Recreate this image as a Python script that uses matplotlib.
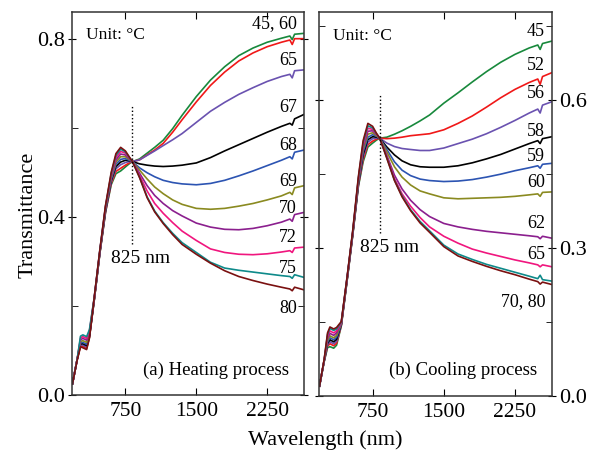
import matplotlib
matplotlib.use("Agg")
import matplotlib.pyplot as plt
from matplotlib.ticker import MultipleLocator

plt.rcParams['font.family'] = ['Liberation Serif', 'DejaVu Serif']
plt.rcParams['mathtext.fontset'] = 'stix'

# wavelength grid (nm): UV-vis part then NIR part
wl_uv = [190, 240, 275, 300, 340, 370, 420, 480, 540, 600, 650, 700, 750, 790]
wl_nir = [825, 900, 980, 1060, 1150, 1250, 1350, 1500, 1650, 1800, 1950, 2100,
          2250, 2400, 2490, 2515, 2540, 2640]
wl = wl_uv + wl_nir

# ---- (a) heating ----
heat_45 = [0.025, 0.08, 0.111, 0.110, 0.106, 0.130, 0.212, 0.318, 0.410, 0.472, 0.497, 0.503, 0.512, 0.519,
           0.524, 0.530, 0.543, 0.556, 0.572, 0.598, 0.628, 0.670, 0.707, 0.737, 0.762, 0.779,
           0.792, 0.801, 0.806, 0.798, 0.810, 0.812]
heat_60 = [0.025, 0.08, 0.110, 0.109, 0.105, 0.130, 0.212, 0.318, 0.411, 0.475, 0.502, 0.509, 0.516, 0.521,
           0.524, 0.528, 0.539, 0.550, 0.565, 0.590, 0.618, 0.658, 0.695, 0.725, 0.750, 0.768,
           0.782, 0.792, 0.797, 0.787, 0.800, 0.800]
heat_65 = [0.025, 0.08, 0.113, 0.112, 0.108, 0.131, 0.213, 0.319, 0.413, 0.478, 0.508, 0.517, 0.522, 0.524,
           0.524, 0.528, 0.538, 0.548, 0.560, 0.573, 0.587, 0.612, 0.637, 0.657, 0.675, 0.690,
           0.704, 0.715, 0.720, 0.712, 0.728, 0.730]
heat_67 = [0.025, 0.08, 0.115, 0.115, 0.111, 0.133, 0.213, 0.320, 0.415, 0.481, 0.513, 0.523, 0.527, 0.526,
           0.524, 0.519, 0.516, 0.514, 0.513, 0.514, 0.516, 0.521, 0.533, 0.548, 0.562, 0.576,
           0.590, 0.603, 0.610, 0.606, 0.620, 0.630]
heat_68 = [0.025, 0.08, 0.117, 0.118, 0.114, 0.135, 0.214, 0.321, 0.417, 0.484, 0.518, 0.529, 0.531, 0.527,
           0.524, 0.510, 0.499, 0.490, 0.482, 0.477, 0.474, 0.472, 0.475, 0.482, 0.492, 0.503,
           0.515, 0.527, 0.535, 0.530, 0.545, 0.550]
heat_69 = [0.025, 0.08, 0.120, 0.122, 0.118, 0.138, 0.215, 0.322, 0.419, 0.487, 0.523, 0.535, 0.535, 0.529,
           0.524, 0.505, 0.485, 0.467, 0.452, 0.438, 0.428, 0.419, 0.417, 0.419, 0.424, 0.430,
           0.438, 0.447, 0.455, 0.450, 0.465, 0.470]
heat_70 = [0.025, 0.08, 0.124, 0.127, 0.123, 0.141, 0.216, 0.323, 0.421, 0.490, 0.528, 0.541, 0.539, 0.531,
           0.524, 0.498, 0.470, 0.448, 0.430, 0.414, 0.402, 0.386, 0.377, 0.372, 0.371, 0.374,
           0.380, 0.388, 0.395, 0.390, 0.405, 0.410]
heat_72 = [0.025, 0.08, 0.128, 0.131, 0.127, 0.144, 0.217, 0.324, 0.423, 0.494, 0.533, 0.547, 0.543, 0.533,
           0.524, 0.493, 0.458, 0.430, 0.408, 0.387, 0.368, 0.347, 0.328, 0.320, 0.316, 0.315,
           0.317, 0.321, 0.324, 0.320, 0.330, 0.332]
heat_75 = [0.025, 0.08, 0.132, 0.135, 0.131, 0.147, 0.218, 0.325, 0.424, 0.497, 0.538, 0.552, 0.546, 0.534,
           0.524, 0.489, 0.445, 0.413, 0.387, 0.363, 0.342, 0.320, 0.298, 0.285, 0.280, 0.276,
           0.272, 0.268, 0.266, 0.262, 0.270, 0.264]
heat_80 = [0.025, 0.078, 0.108, 0.106, 0.102, 0.128, 0.218, 0.326, 0.426, 0.500, 0.542, 0.556, 0.548, 0.535,
           0.524, 0.488, 0.443, 0.411, 0.385, 0.360, 0.338, 0.316, 0.296, 0.279, 0.266, 0.257,
           0.249, 0.242, 0.238, 0.234, 0.242, 0.236]

# ---- (b) cooling ----
cool_45 = [0.02, 0.07, 0.098, 0.100, 0.097, 0.103, 0.142, 0.232, 0.325, 0.425, 0.475, 0.505, 0.513, 0.519,
           0.523, 0.525, 0.531, 0.538, 0.547, 0.558, 0.570, 0.594, 0.615, 0.637, 0.658, 0.677,
           0.693, 0.706, 0.712, 0.703, 0.715, 0.720]
cool_52 = [0.02, 0.071, 0.101, 0.106, 0.102, 0.107, 0.143, 0.233, 0.326, 0.427, 0.480, 0.510, 0.517, 0.521,
           0.523, 0.522, 0.523, 0.525, 0.528, 0.530, 0.532, 0.540, 0.553, 0.568, 0.586, 0.605,
           0.622, 0.636, 0.643, 0.632, 0.648, 0.656]
cool_56 = [0.02, 0.071, 0.104, 0.110, 0.106, 0.111, 0.144, 0.234, 0.327, 0.429, 0.485, 0.515, 0.522, 0.523,
           0.523, 0.513, 0.506, 0.502, 0.500, 0.498, 0.498, 0.503, 0.512, 0.521, 0.532, 0.545,
           0.559, 0.574, 0.582, 0.574, 0.590, 0.597]
cool_58 = [0.02, 0.072, 0.107, 0.114, 0.110, 0.115, 0.145, 0.235, 0.328, 0.431, 0.490, 0.520, 0.526, 0.525,
           0.523, 0.505, 0.489, 0.477, 0.469, 0.465, 0.464, 0.464, 0.467, 0.473, 0.481, 0.490,
           0.501, 0.512, 0.518, 0.512, 0.522, 0.526]
cool_59 = [0.02, 0.072, 0.110, 0.118, 0.114, 0.119, 0.146, 0.236, 0.329, 0.433, 0.495, 0.525, 0.530, 0.527,
           0.523, 0.500, 0.475, 0.458, 0.447, 0.440, 0.437, 0.435, 0.436, 0.439, 0.444, 0.450,
           0.457, 0.463, 0.467, 0.462, 0.470, 0.472]
cool_60 = [0.02, 0.073, 0.113, 0.122, 0.118, 0.123, 0.147, 0.237, 0.330, 0.435, 0.500, 0.531, 0.534, 0.528,
           0.523, 0.495, 0.465, 0.444, 0.428, 0.416, 0.410, 0.402, 0.400, 0.401, 0.402, 0.403,
           0.405, 0.408, 0.410, 0.405, 0.413, 0.414]
cool_62 = [0.02, 0.073, 0.117, 0.127, 0.123, 0.128, 0.148, 0.238, 0.331, 0.438, 0.505, 0.537, 0.538, 0.530,
           0.523, 0.488, 0.448, 0.420, 0.397, 0.378, 0.364, 0.350, 0.343, 0.338, 0.334, 0.331,
           0.328, 0.325, 0.323, 0.319, 0.324, 0.320]
cool_65 = [0.02, 0.074, 0.121, 0.132, 0.128, 0.132, 0.149, 0.238, 0.332, 0.440, 0.510, 0.543, 0.541, 0.531,
           0.523, 0.485, 0.441, 0.410, 0.385, 0.362, 0.343, 0.324, 0.310, 0.298, 0.290, 0.283,
           0.276, 0.270, 0.266, 0.262, 0.266, 0.262]
cool_70 = [0.02, 0.074, 0.125, 0.137, 0.133, 0.136, 0.150, 0.239, 0.333, 0.442, 0.514, 0.548, 0.544, 0.532,
           0.523, 0.483, 0.438, 0.406, 0.378, 0.354, 0.335, 0.306, 0.288, 0.277, 0.267, 0.259,
           0.251, 0.243, 0.238, 0.245, 0.236, 0.233]
cool_80 = [0.02, 0.075, 0.128, 0.140, 0.136, 0.139, 0.151, 0.240, 0.335, 0.445, 0.518, 0.553, 0.547, 0.533,
           0.523, 0.482, 0.437, 0.404, 0.376, 0.351, 0.332, 0.303, 0.284, 0.273, 0.263, 0.254,
           0.246, 0.237, 0.232, 0.227, 0.231, 0.226]

palette = ['#18893c', '#f01818', '#6a52b0', '#000000', '#2c54b2',
           '#8a8a20', '#8b1f8e', '#f0167e', '#0e8a8a', '#7a1010']

heat_series = [heat_45, heat_60, heat_65, heat_67, heat_68, heat_69, heat_70, heat_72, heat_75, heat_80]
cool_series = [cool_45, cool_52, cool_56, cool_58, cool_59, cool_60, cool_62, cool_65, cool_70, cool_80]

heat_labels = ['45, 60', '65', '67', '68', '69', '70', '72', '75', '80']
heat_label_y = [0.833, 0.751, 0.645, 0.560, 0.479, 0.418, 0.354, 0.285, 0.195]
cool_labels = ['45', '52', '56', '58', '59', '60', '62', '65', '70, 80']
cool_label_y = [0.740, 0.671, 0.613, 0.537, 0.485, 0.434, 0.349, 0.288, 0.191]

fig = plt.figure(figsize=(5.89, 4.55), dpi=100)
ax1 = fig.add_axes([0.1222, 0.1319, 0.394, 0.8418])
ax2 = fig.add_axes([0.5416, 0.1297, 0.3956, 0.8440])

for ax, series in [(ax1, heat_series), (ax2, cool_series)]:
    for ys, c in zip(series, palette):
        ax.plot(wl, ys, color=c, lw=1.2)
    ax.set_xlim(185, 2640)
    ax.xaxis.set_major_locator(MultipleLocator(750))
    ax.tick_params(axis='x', which='major', direction='in', top=True, length=5,
                   labelsize=15.5, pad=5)
    ax.tick_params(axis='y', which='major', direction='inout', left=True, right=True,
                   length=6, labelsize=16, pad=2)
    ax.tick_params(axis='y', which='minor', direction='in', left=True, right=True, length=4)
    for sp in ax.spines.values():
        sp.set_linewidth(1.1)
        sp.set_color('#333333')

ax1.set_ylim(0, 0.86)
ax1.yaxis.set_major_locator(MultipleLocator(0.4))
ax1.yaxis.set_minor_locator(MultipleLocator(0.2))
ax1.set_yticks([0.0, 0.4, 0.8])
ax1.set_yticklabels(['0.0', '0.4', '0.8'])

ax2.set_ylim(0, 0.779)
ax2.yaxis.set_major_locator(MultipleLocator(0.3))
ax2.yaxis.set_minor_locator(MultipleLocator(0.15))
ax2.set_yticks([0.0, 0.3, 0.6])
ax2.set_yticklabels(['0.0', '0.3', '0.6'])
ax2.tick_params(axis='y', which='both', labelleft=False, labelright=True)

for lab, y in zip(heat_labels, heat_label_y):
    ax1.text(2566, y, lab, ha='right', va='center', fontsize=13)
for lab, y in zip(cool_labels, cool_label_y):
    ax2.text(2567, y, lab, ha='right', va='center', fontsize=13)

ax1.text(338, 0.809, 'Unit: \u00b0C', ha='left', va='center', fontsize=12.5)
ax2.text(328, 0.730, 'Unit: \u00b0C', ha='left', va='center', fontsize=12.5)
ax1.text(2482, 0.056, '(a) Heating process', ha='right', va='center', fontsize=13.5)
ax2.text(2482, 0.053, '(b) Cooling process', ha='right', va='center', fontsize=13.5)

ax1.plot([825, 825], [0.339, 0.649], color='k', ls=':', lw=1.0)
ax2.plot([829, 829], [0.331, 0.611], color='k', ls=':', lw=1.0)
ax1.text(908, 0.306, '825 nm', ha='center', va='center', fontsize=14)
ax2.text(930, 0.302, '825 nm', ha='center', va='center', fontsize=14)

fig.text(0.047, 0.527, 'Transmittance', rotation=90, ha='center', va='center', fontsize=16)
fig.text(0.552, 0.033, 'Wavelength (nm)', ha='center', va='center', fontsize=16)

fig.savefig('out.png', dpi=100)
